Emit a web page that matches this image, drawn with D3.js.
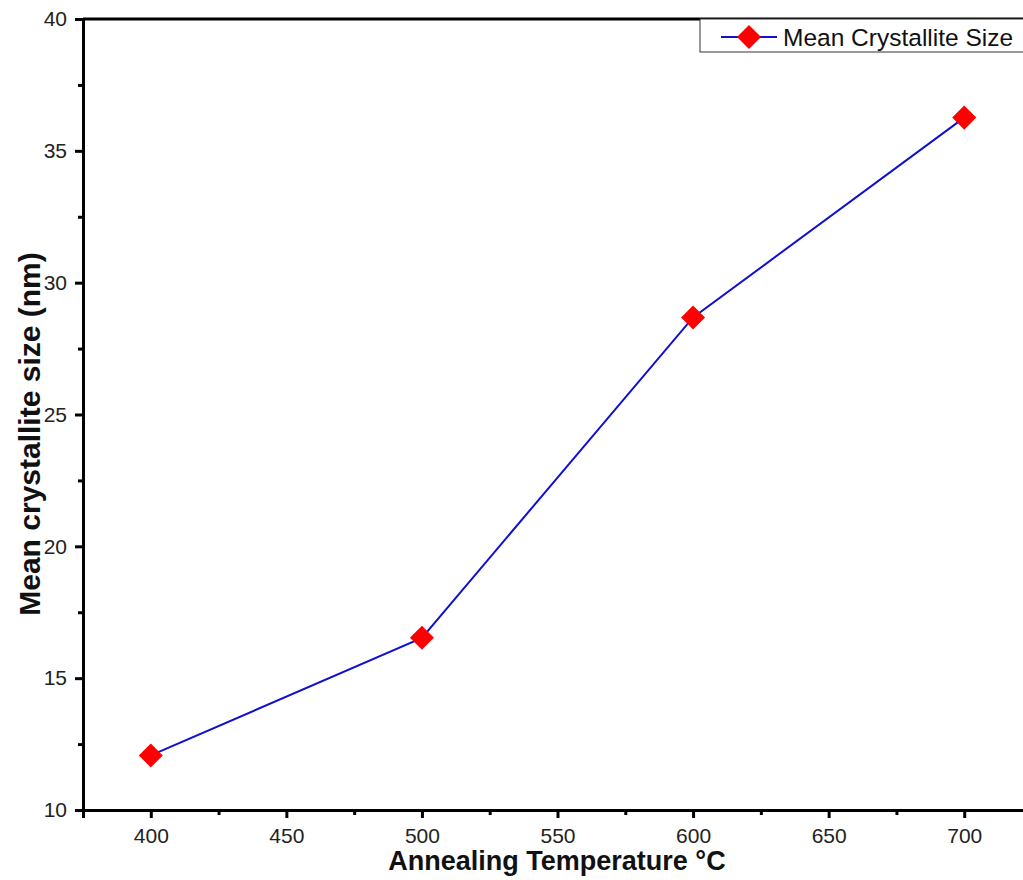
<!DOCTYPE html>
<html><head><meta charset="utf-8">
<script src="https://cdn.jsdelivr.net/npm/d3@7"></script>
<style>body{margin:0;background:#fff}svg{display:block}</style>
</head><body>
<svg id="c" width="1023" height="880"></svg>
<script>
const temps = [400, 500, 600, 700];
const sizes = [12.07, 16.53, 28.68, 36.26];
const xTicks = [400, 450, 500, 550, 600, 650, 700];
const yTicks = [10, 15, 20, 25, 30, 35, 40];
const seriesName = "Mean Crystallite Size";

const svg = d3.select("#c");
const L = 83, T = 19, B = 810, R = 1032;
const x = d3.scaleLinear().domain([375, 725]).range([L, R]);
const y = d3.scaleLinear().domain([10, 40]).range([B, T]);
const FONT = "Arial, 'Liberation Sans', sans-serif";

// frame top line
svg.append("line").attr("x1", L).attr("x2", 1023).attr("y1", T).attr("y2", T)
  .attr("stroke", "#000").attr("stroke-width", 3);

// axes
const xMinor = d3.range(375, 726, 25).filter(v => !xTicks.includes(v));
const yMinor = d3.range(12.5, 40, 5);

const gx = svg.append("g").attr("transform", `translate(0,${B})`);
gx.call(d3.axisBottom(x).tickValues(xTicks).tickSize(8).tickPadding(10).tickFormat(d3.format("d")));
const gxm = svg.append("g").attr("transform", `translate(0,${B})`);
gxm.call(d3.axisBottom(x).tickValues(xMinor).tickSize(5).tickFormat(""));
const gy = svg.append("g").attr("transform", `translate(${L},0)`);
gy.call(d3.axisLeft(y).tickValues(yTicks).tickSize(8).tickPadding(8).tickFormat(d3.format("d")));
const gym = svg.append("g").attr("transform", `translate(${L},0)`);
gym.call(d3.axisLeft(y).tickValues(yMinor).tickSize(5).tickFormat(""));

[gx, gxm, gy, gym].forEach(g => {
  g.select(".domain").attr("stroke", "#000").attr("stroke-width", 3);
  g.selectAll(".tick line").attr("stroke", "#000").attr("stroke-width", 3);
  g.selectAll(".tick text").attr("font-family", FONT)
    .attr("font-size", 21).attr("fill", "#222");
});

// titles
svg.append("text").attr("x", 557).attr("y", 870).attr("text-anchor", "middle")
  .attr("font-family", FONT).attr("font-weight", "bold")
  .attr("font-size", 27).attr("fill", "#111").text("Annealing Temperature °C");
svg.append("text").attr("transform", `translate(40,434) rotate(-90)`)
  .attr("text-anchor", "middle")
  .attr("font-family", FONT).attr("font-weight", "bold")
  .attr("font-size", 30).attr("fill", "#111").text("Mean crystallite size (nm)");

// line
const data = temps.map((t, i) => ({t, v: sizes[i]}));
svg.append("path").datum(data)
  .attr("d", d3.line().x(d => x(d.t)).y(d => y(d.v)))
  .attr("fill", "none").attr("stroke", "#1010d0").attr("stroke-width", 2);

svg.selectAll(".pt").data(data).enter().append("rect")
  .attr("width", 17).attr("height", 17)
  .attr("x", -8.5).attr("y", -8.5)
  .attr("transform", d => `translate(${x(d.t)},${y(d.v)}) rotate(45)`)
  .attr("fill", "#ff0000");

// legend
const lg = svg.append("g");
lg.append("rect").attr("x", 700).attr("y", 19).attr("width", 340).attr("height", 33)
  .attr("fill", "#fff").attr("stroke", "#333").attr("stroke-width", 1);
lg.append("line").attr("x1", 721).attr("x2", 777).attr("y1", 37).attr("y2", 37)
  .attr("stroke", "#1010d0").attr("stroke-width", 2);
lg.append("rect").attr("width", 17).attr("height", 17).attr("x", -8.5).attr("y", -8.5)
  .attr("transform", "translate(749,37) rotate(45)").attr("fill", "#ff0000");
lg.append("text").attr("x", 783).attr("y", 46)
  .attr("font-family", FONT).attr("font-size", 24.5)
  .attr("fill", "#111").text(seriesName);
</script>
</body></html>
